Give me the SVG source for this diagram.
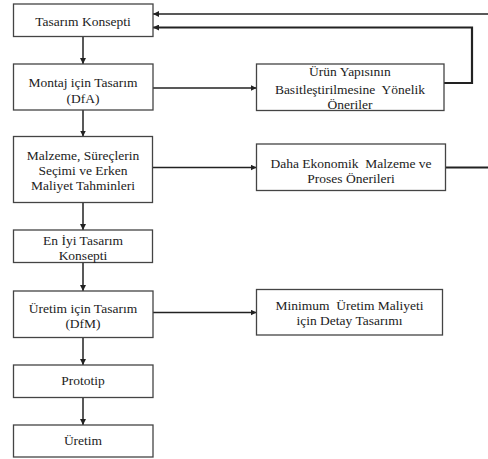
<svg xmlns="http://www.w3.org/2000/svg" width="488" height="459" viewBox="0 0 488 459">
<defs>
<marker id="ah" viewBox="0 0 10 10" refX="10" refY="5" markerWidth="6" markerHeight="6" markerUnits="userSpaceOnUse" orient="auto">
<path d="M0,0 L10,5 L0,10 z" fill="#222"/>
</marker>
<style>
.box{fill:#fff;stroke:#444;stroke-width:1.3}
.t{font-size:13.5px;fill:#222;text-anchor:middle}
.c{fill:none;stroke:#222;stroke-width:1.5}
.ct{fill:none;stroke:#222;stroke-width:2.2}
</style>
</defs>
<rect width="488" height="459" fill="#fff"/>
<g id="connectors">
<line class="c" x1="83" y1="36.5" x2="83" y2="64" marker-end="url(#ah)"/>
<line class="c" x1="83" y1="110" x2="83" y2="136.5" marker-end="url(#ah)"/>
<line class="c" x1="83" y1="202.5" x2="83" y2="230" marker-end="url(#ah)"/>
<line class="c" x1="83" y1="262.5" x2="83" y2="291" marker-end="url(#ah)"/>
<line class="c" x1="83" y1="337.5" x2="83" y2="365" marker-end="url(#ah)"/>
<line class="c" x1="83" y1="397.5" x2="83" y2="425" marker-end="url(#ah)"/>
<line class="c" x1="153" y1="88" x2="256.5" y2="88" marker-end="url(#ah)"/>
<line class="c" x1="152.5" y1="167.5" x2="256.5" y2="167.5" marker-end="url(#ah)"/>
<line class="c" x1="153" y1="312.5" x2="256.5" y2="312.5" marker-end="url(#ah)"/>
<line class="c" x1="488" y1="14" x2="153" y2="14" marker-end="url(#ah)"/>
<polyline class="ct" points="444,83 472,83 472,27.5 153,27.5" marker-end="url(#ah)"/>
<line class="ct" x1="445.5" y1="167.5" x2="488" y2="167.5"/>
</g>
<g font-family="'Liberation Serif', 'Times New Roman', serif">
<g id="n1"><rect class="box" x="13.5" y="4" width="139.5" height="32.5"/><text class="t" x="83" y="25.5">Tasarım Konsepti</text></g>
<g id="n2"><rect class="box" x="13.5" y="64" width="139.5" height="46"/><text class="t" x="83" y="87">Montaj için Tasarım</text><text class="t" x="83" y="103">(DfA)</text></g>
<g id="n3"><rect class="box" x="13.5" y="136.5" width="139" height="66"/><text class="t" x="83" y="159.5">Malzeme, Süreçlerin</text><text class="t" x="83" y="175">Seçimi ve Erken</text><text class="t" x="83" y="189.5">Maliyet Tahminleri</text></g>
<g id="n4"><rect class="box" x="13.5" y="230" width="139" height="32.5"/><text class="t" x="83" y="244.5">En İyi Tasarım</text><text class="t" x="83" y="259.5">Konsepti</text></g>
<g id="n5"><rect class="box" x="13.5" y="291" width="139.5" height="46.5"/><text class="t" x="83" y="312.5">Üretim için Tasarım</text><text class="t" x="83" y="328">(DfM)</text></g>
<g id="n6"><rect class="box" x="13.5" y="365" width="139.5" height="32.5"/><text class="t" x="83" y="384.5">Prototip</text></g>
<g id="n7"><rect class="box" x="13.5" y="425" width="139.5" height="32"/><text class="t" x="83" y="445">Üretim</text></g>
<g id="n8"><rect class="box" x="256.5" y="64" width="187.5" height="46.5"/><text class="t" x="350" y="76">Ürün Yapısının</text><text class="t" x="350" y="93.5" xml:space="preserve">Basitleştirilmesine  Yönelik</text><text class="t" x="350" y="109">Öneriler</text></g>
<g id="n9"><rect class="box" x="256.5" y="144" width="189" height="46.5"/><text class="t" x="351" y="167.5" xml:space="preserve">Daha Ekonomik  Malzeme ve</text><text class="t" x="351" y="182.5">Proses Önerileri</text></g>
<g id="n10"><rect class="box" x="256.5" y="289.5" width="186" height="45.5"/><text class="t" x="349.5" y="309.5" xml:space="preserve">Minimum  Üretim Maliyeti</text><text class="t" x="349.5" y="325">için Detay Tasarımı</text></g>
</g>
</svg>
